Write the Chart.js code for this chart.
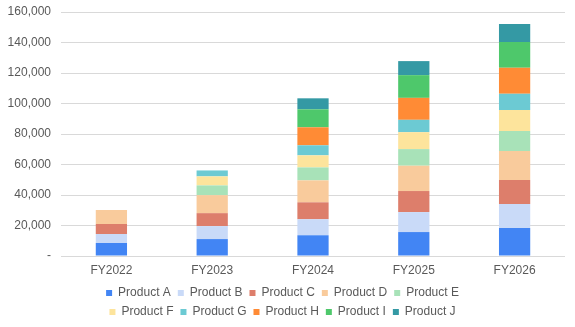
<!DOCTYPE html>
<html>
<head>
<meta charset="utf-8">
<script src="https://cdn.jsdelivr.net/npm/chart.js@4.4.1/dist/chart.umd.min.js"></script>
<style>
  html, body { margin: 0; padding: 0; background: #fff; }
  #wrap { width: 575px; height: 327px; }
</style>
</head>
<body>
<div id="wrap"><canvas id="myChart" width="575" height="327"></canvas></div>
<script>
let years = ["FY2022", "FY2023", "FY2024", "FY2025", "FY2026"];

let productA = [8500, 11100, 13600, 15700, 18400];
let productB = [6000, 8500, 10500, 13100, 15700];
let productC = [6500, 8500, 11100, 13800, 15700];
let productD = [9200, 11800, 14400, 16600, 19000];
let productE = [0, 6400, 8500, 10900, 13100];
let productF = [0, 5900, 7900, 11100, 13800];
let productG = [0, 3900, 6600, 8100, 10700];
let productH = [0, 0, 11800, 14400, 17000];
let productI = [0, 0, 11800, 14900, 17000];
let productJ = [0, 0, 7200, 9200, 11800];

let yTicks = [0, 20000, 40000, 60000, 80000, 100000, 120000, 140000, 160000];

let series = [
  ["Product A", productA, "#4285F4"],
  ["Product B", productB, "#C9DAF8"],
  ["Product C", productC, "#DD7E6B"],
  ["Product D", productD, "#F9CB9C"],
  ["Product E", productE, "#A8E2B8"],
  ["Product F", productF, "#FDE49C"],
  ["Product G", productG, "#6CCAD3"],
  ["Product H", productH, "#FF8B35"],
  ["Product I", productI, "#4EC86B"],
  ["Product J", productJ, "#3499A4"]
];

const FONT = "Liberation Sans, Arial, sans-serif";
const LEGEND_ROW_WIDTH = 400;

// keep the legend at five items per row: narrow the box while rows are
// measured and while they are drawn (centre stays the same)
const legendRows = {
  id: "legendRows",
  beforeLayout: function(chart) {
    let lg = chart.legend;
    if (!lg || lg._rowsPatched) return;
    let fitRows = lg._fitRows;
    lg._fitRows = function() {
      let mw = this.maxWidth;
      this.maxWidth = LEGEND_ROW_WIDTH;
      let h = fitRows.apply(this, arguments);
      this.maxWidth = mw;
      return h;
    };
    let draw = lg.draw;
    lg.draw = function() {
      let l = this.left, r = this.right;
      let c = (l + r) / 2;
      this.left = c - LEGEND_ROW_WIDTH / 2;
      this.right = c + LEGEND_ROW_WIDTH / 2;
      draw.apply(this, arguments);
      this.left = l;
      this.right = r;
    };
    lg._rowsPatched = true;
  }
};

document.addEventListener("DOMContentLoaded", function() {
  let ctx = document.getElementById("myChart").getContext("2d");

  let datasets = series.map(function(s) {
    return {
      label: s[0],
      data: s[1],
      backgroundColor: s[2],
      borderWidth: 0,
      categoryPercentage: 1,
      barPercentage: 0.31
    };
  });

  new Chart(ctx, {
    type: "bar",
    data: { labels: years, datasets: datasets },
    plugins: [legendRows],
    options: {
      responsive: false,
      animation: false,
      layout: { padding: { top: 0, right: 10, left: 0, bottom: -1 } },
      plugins: {
        tooltip: { enabled: false },
        legend: {
          position: "bottom",
          labels: {
            boxWidth: 6,
            boxHeight: 6,
            padding: 7,
            color: "#595959",
            font: { family: FONT, size: 12 }
          }
        }
      },
      scales: {
        x: {
          stacked: true,
          afterFit: function(scale) { scale.height = 24; },
          grid: { display: false, drawTicks: false },
          border: { display: false },
          ticks: {
            color: "#595959",
            padding: 7,
            font: { family: FONT, size: 12 }
          }
        },
        y: {
          stacked: true,
          min: 0,
          max: 160000,
          afterFit: function(scale) {
            scale.width = 61;
            scale.paddingTop = 12;
          },
          afterBuildTicks: function(scale) {
            scale.ticks = yTicks.map(function(v) { return { value: v }; });
          },
          grid: { color: "#d9d9d9", lineWidth: 1, drawTicks: false },
          border: { display: false },
          ticks: {
            color: "#595959",
            padding: 10,
            font: { family: FONT, size: 12 },
            callback: function(value) {
              return value === 0 ? "-" : value.toLocaleString("en-US");
            }
          }
        }
      }
    }
  });
});
</script>
</body>
</html>
